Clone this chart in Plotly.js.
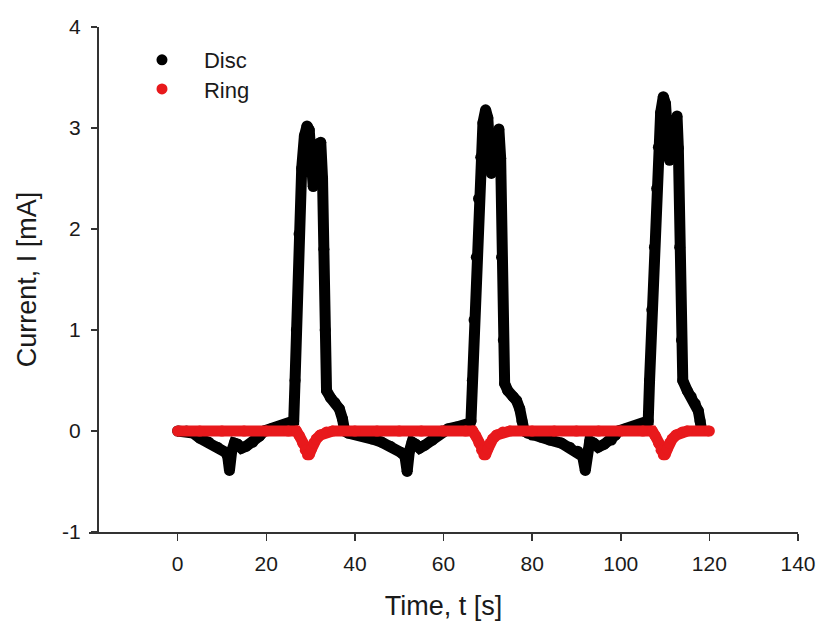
<!DOCTYPE html>
<html>
<head>
<meta charset="utf-8">
<script src="https://cdn.plot.ly/plotly-3.0.1.min.js"></script>
<style>
  html, body { margin: 0; padding: 0; background: #ffffff; }
  #chart { width: 823px; height: 628px; }
</style>
</head>
<body>
<div id="chart"></div>
<script>
// ---- Data ----
const discTime = [
  0, 2, 3.5, 5, 7, 9, 10.8, 11.3, 11.7, 12.2, 12.8, 13.5, 14.4, 15.5, 17, 18.5, 19.5, 21, 23, 25, 26,
  26.2, 26.5, 26.8, 27.4, 28.0, 28.6, 29.2, 29.7, 30.1, 30.6, 31.3, 31.9, 32.3, 32.7, 33.0, 33.3, 33.6,
  34.5, 35.5, 36.5, 37.2, 37.7, 38.5,
  40, 42, 44, 46, 48, 50.3, 51.3, 51.8, 52.3, 52.9, 53.7, 54.6, 55.8, 57.5, 58.7, 59.6, 61, 63, 65, 66,
  66.2, 66.5, 66.9, 67.4, 67.9, 68.4, 68.9, 69.5, 70.0, 70.4, 70.8, 71.3, 71.9, 72.5, 72.9, 73.1, 73.5, 73.8,
  74.5, 75.7, 76.5, 77.2, 77.7, 78.2, 79,
  80, 82, 84, 86.6, 88.5, 90.3, 91.4, 92.0, 92.5, 93.0, 93.9, 94.9, 96.3, 97.9, 98.8, 99.4, 101, 103, 104.6, 106,
  106.2, 106.5, 107.0, 107.6, 108.1, 108.5, 109.0, 109.6, 110.1, 110.6, 111.0, 111.5, 112.1, 112.7, 113.0, 113.3, 113.7, 114.0,
  115.0, 115.9, 116.8, 117.5, 117.9, 118.2
];
const discCurrent = [
  0, 0, -0.02, -0.07, -0.11, -0.16, -0.21, -0.25, -0.39, -0.2, -0.12, -0.13, -0.17, -0.15, -0.11, -0.05, 0, 0.02, 0.04, 0.06, 0.08,
  0.1, 0.5, 1.0, 1.95, 2.6, 2.92, 3.02, 2.98, 2.7, 2.42, 2.65, 2.85, 2.86, 2.5, 1.8, 1.0, 0.4,
  0.33, 0.28, 0.22, 0.12, 0.0, -0.02,
  -0.03, -0.05, -0.08, -0.11, -0.15, -0.21, -0.25, -0.4, -0.2, -0.11, -0.13, -0.17, -0.14, -0.09, -0.04, 0, 0.02, 0.04, 0.06, 0.08,
  0.1, 0.5, 1.1, 1.72, 2.3, 2.71, 3.05, 3.18, 3.1, 2.8, 2.55, 2.72, 2.95, 2.99, 2.7, 1.72, 0.9, 0.47,
  0.4, 0.34, 0.3, 0.22, 0.1, 0.0, -0.02,
  -0.04, -0.06, -0.09, -0.12, -0.16, -0.2, -0.25, -0.39, -0.2, -0.1, -0.12, -0.16, -0.13, -0.09, -0.04, 0, 0.02, 0.04, 0.06, 0.08,
  0.1, 0.5, 1.2, 1.82, 2.4, 2.81, 3.15, 3.31, 3.24, 2.9, 2.68, 2.85, 3.08, 3.12, 2.8, 1.82, 0.9, 0.5,
  0.4, 0.34, 0.27, 0.2, 0.1, 0.02
];
const ringTime = [
  0, 5, 10, 15, 20, 25, 26.8, 27.5, 28.2, 28.8, 29.3, 29.7, 30.2, 30.7, 31.3, 32.2, 33.6, 35,
  40, 45, 50, 55, 60, 65, 66.6, 67.3, 68.0, 68.6, 69.1, 69.5, 70.0, 70.5, 71.1, 72.0, 73.4, 75,
  80, 85, 90, 95, 100, 105, 107.1, 107.8, 108.5, 109.1, 109.6, 110.0, 110.5, 111.0, 111.6, 112.5, 113.9, 115,
  120
];
const ringCurrent = [
  0, 0, 0, 0, 0, 0, 0, -0.05, -0.12, -0.19, -0.235, -0.235, -0.18, -0.12, -0.08, -0.04, -0.01, 0,
  0, 0, 0, 0, 0, 0, 0, -0.05, -0.12, -0.19, -0.235, -0.235, -0.18, -0.12, -0.08, -0.04, -0.01, 0,
  0, 0, 0, 0, 0, 0, 0, -0.05, -0.12, -0.19, -0.235, -0.235, -0.18, -0.12, -0.08, -0.04, -0.01, 0,
  0
];
const seriesNames = ['Disc', 'Ring'];
const xTickVals = [0, 20, 40, 60, 80, 100, 120, 140];
const yTickVals = [-1, 0, 1, 2, 3, 4];

// ---- Styles ----
const FONT = 'Liberation Sans, Arial, Helvetica, sans-serif';
const discColor = '#000000';
const ringColor = '#e8191c';
const LW = 11, MS = 11;

const traces = [
  { x: discTime, y: discCurrent, type: 'scatter', mode: 'lines', showlegend: false,
    line: { color: discColor, width: LW }, hoverinfo: 'skip' },
  { x: discTime, y: discCurrent, type: 'scatter', mode: 'markers', name: seriesNames[0],
    marker: { color: discColor, size: MS }, legend: 'legend' },
  { x: ringTime, y: ringCurrent, type: 'scatter', mode: 'lines', showlegend: false,
    line: { color: ringColor, width: LW }, hoverinfo: 'skip' },
  { x: ringTime, y: ringCurrent, type: 'scatter', mode: 'markers', name: seriesNames[1],
    marker: { color: ringColor, size: MS }, legend: 'legend2' }
];

const axisLine = '#333333';
const layout = {
  width: 823, height: 628,
  margin: { l: 89, r: 25, t: 27, b: 96, pad: 0 },
  paper_bgcolor: '#ffffff', plot_bgcolor: '#ffffff',
  font: { family: FONT, color: '#1a1a1a' },
  xaxis: {
    range: [-20, 140], tickvals: xTickVals, ticktext: xTickVals.map(String),
    showline: true, linecolor: axisLine, linewidth: 1.5, mirror: false,
    ticks: 'outside', ticklen: 7, tickwidth: 1.5, tickcolor: axisLine,
    showgrid: false, zeroline: false, ticklabelstandoff: 5,
    tickfont: { family: FONT, size: 21, color: '#1a1a1a' },
    title: { text: 'Time, t [s]', font: { family: FONT, size: 27, color: '#1a1a1a' }, standoff: 22 }
  },
  yaxis: {
    range: [-1, 4], tickvals: yTickVals, ticktext: yTickVals.map(String),
    anchor: 'free', position: 0.0113,
    showline: true, linecolor: axisLine, linewidth: 1.5,
    ticks: 'outside', ticklen: 6, tickwidth: 1.5, tickcolor: axisLine,
    showgrid: false, zeroline: false, ticklabelstandoff: 6,
    tickfont: { family: FONT, size: 21, color: '#1a1a1a' },
    title: { text: 'Current, I [mA]', font: { family: FONT, size: 27, color: '#1a1a1a' }, standoff: 16 }
  },
  legend: {
    x: 0.0437, xanchor: 'left', y: 0.9347, yanchor: 'middle',
    bgcolor: 'rgba(0,0,0,0)', borderwidth: 0, itemwidth: 74,
    font: { family: FONT, size: 22, color: '#1a1a1a' }
  },
  legend2: {
    x: 0.0437, xanchor: 'left', y: 0.877, yanchor: 'middle',
    bgcolor: 'rgba(0,0,0,0)', borderwidth: 0, itemwidth: 74,
    font: { family: FONT, size: 22, color: '#1a1a1a' }
  },
  showlegend: true
};

Plotly.newPlot('chart', traces, layout, { displayModeBar: false, staticPlot: true });
</script>
</body>
</html>
